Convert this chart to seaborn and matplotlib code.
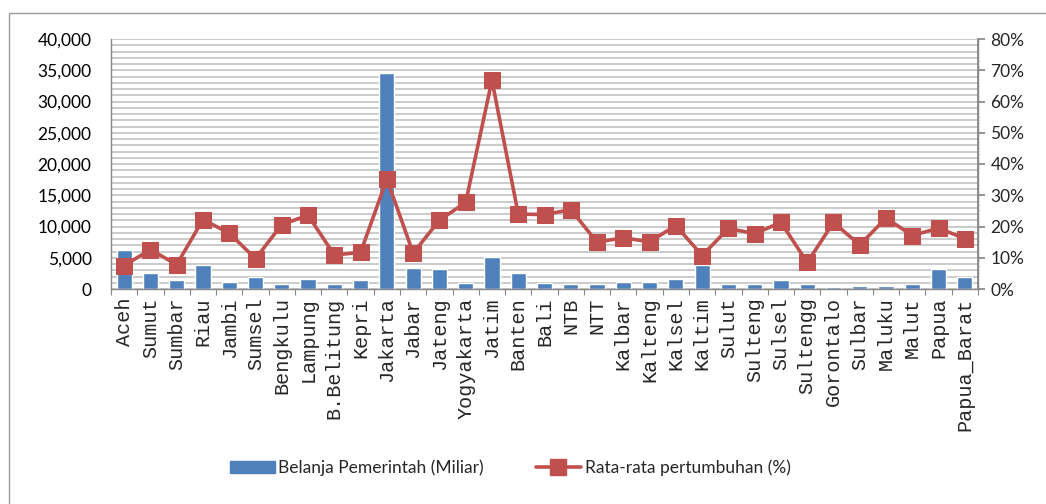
import numpy as np
import pandas as pd
import matplotlib
matplotlib.use("Agg")
import matplotlib.pyplot as plt
import matplotlib.ticker as mticker
from matplotlib.patches import Patch, Rectangle
from matplotlib.lines import Line2D
import seaborn as sns

provinces = ["Aceh", "Sumut", "Sumbar", "Riau", "Jambi", "Sumsel", "Bengkulu",
             "Lampung", "B.Belitung", "Kepri", "Jakarta", "Jabar", "Jateng",
             "Yogyakarta", "Jatim", "Banten", "Bali", "NTB", "NTT", "Kalbar",
             "Kalteng", "Kalsel", "Kaltim", "Sulut", "Sulteng", "Sulsel",
             "Sultengg", "Gorontalo", "Sulbar", "Maluku", "Malut", "Papua",
             "Papua_Barat"]
belanja = [6200, 2500, 1400, 3900, 1150, 2000, 800, 1600, 800, 1400, 34500,
           3400, 3200, 950, 5200, 2500, 950, 750, 750, 1200, 1200, 1650, 3900,
           750, 750, 1400, 750, 300, 550, 550, 750, 3200, 1900]
pertumbuhan = [7.5, 12.6, 7.8, 22.2, 17.9, 9.7, 20.6, 23.6, 10.9, 11.7, 35.2,
               11.5, 22.0, 27.7, 66.8, 24.0, 23.8, 25.4, 15.0, 16.4, 15.1, 20.3,
               10.7, 19.4, 17.7, 21.3, 8.5, 21.3, 14.1, 22.7, 17.1, 19.5, 16.1]

bar_color = "#4F81BD"
line_color = "#C0504D"
grid_color = "#c2c2c2"
num_font = ["Liberation Sans Narrow", "Lato", "DejaVu Sans"]
cat_font = ["Liberation Mono", "DejaVu Sans Mono"]

df = pd.DataFrame({"provinsi": provinces, "belanja": belanja,
                   "tumbuh": np.array(pertumbuhan) / 100.0})
df["pos"] = np.arange(len(df))

sns.set_theme(style="white")
plt.rcParams["font.family"] = num_font

fig = plt.figure(figsize=(10.46, 5.04), dpi=100)
ax = fig.add_axes([111 / 1046, 1 - 289 / 504, (978 - 111) / 1046, 250 / 504])

sns.barplot(data=df, x="provinsi", y="belanja", color=bar_color, width=0.58,
            saturation=1, ax=ax, zorder=2)
ax.set_ylim(0, 40000)
ax.set_xlim(-0.5, len(df) - 0.5)
ax.yaxis.set_major_locator(mticker.MultipleLocator(5000))
ax.yaxis.set_minor_locator(mticker.MultipleLocator(1000))
ax.yaxis.set_major_formatter(mticker.FuncFormatter(lambda v, p: f"{int(v):,}"))
ax.grid(True, which="both", axis="y", color=grid_color, lw=1.2, zorder=0)
ax.set_axisbelow(True)
ax.set_xlabel("")
ax.set_ylabel("")
ax.tick_params(axis="y", which="major", labelsize=12.5, length=0, pad=14,
               labelcolor="black")
ax.tick_params(axis="y", which="minor", length=0)
ax.set_xticks(df["pos"])
ax.set_xticklabels(provinces, rotation=90, family=cat_font, fontsize=14.5)
ax.tick_params(axis="x", which="major", length=0, pad=6)
ax.set_xticks(np.arange(len(df) + 1) - 0.5, minor=True)
ax.tick_params(axis="x", which="minor", length=4, color="#888888", width=0.8,
               direction="out", bottom=True)
for side in ["left", "bottom", "right"]:
    ax.spines[side].set_color("#888888")
    ax.spines[side].set_linewidth(1.0)
ax.spines["top"].set_visible(False)

ax2 = ax.twinx()
sns.lineplot(data=df, x="pos", y="tumbuh", color=line_color, lw=2.6,
             marker="s", markersize=12, markeredgecolor=line_color,
             ax=ax2, zorder=3)
ax2.set_ylim(0, 0.8)
ax2.set_xlim(-0.5, len(df) - 0.5)
ax2.yaxis.set_major_locator(mticker.MultipleLocator(0.1))
ax2.yaxis.set_major_formatter(mticker.PercentFormatter(1.0, decimals=0))
ax2.set_ylabel("")
ax2.set_xlabel("")
ax2.tick_params(axis="y", labelsize=12.5, length=5, color="#888888",
                direction="out", right=True, pad=4)
for side in ["left", "top", "bottom"]:
    ax2.spines[side].set_visible(False)
ax2.spines["right"].set_color("#888888")
ax2.grid(False)

handles = [Patch(facecolor=bar_color, edgecolor=bar_color),
           Line2D([0], [0], color=line_color, lw=2.6, marker="s",
                  markersize=12)]
fig.legend(handles, ["Belanja Pemerintah (Miliar)", "Rata-rata pertumbuhan (%)"],
           loc="center", bbox_to_anchor=(510 / 1046, 1 - 468 / 504), ncol=2,
           frameon=False, fontsize=12.5, handlelength=2.6, handletextpad=0.2,
           columnspacing=3.0)

fig.patches.append(Rectangle((9 / 1046, -0.1), 1.2, 1 - 13 / 504 + 0.1,
                             transform=fig.transFigure, fill=False,
                             edgecolor="#999999", lw=1.0))

fig.savefig("out.png", dpi=100)
